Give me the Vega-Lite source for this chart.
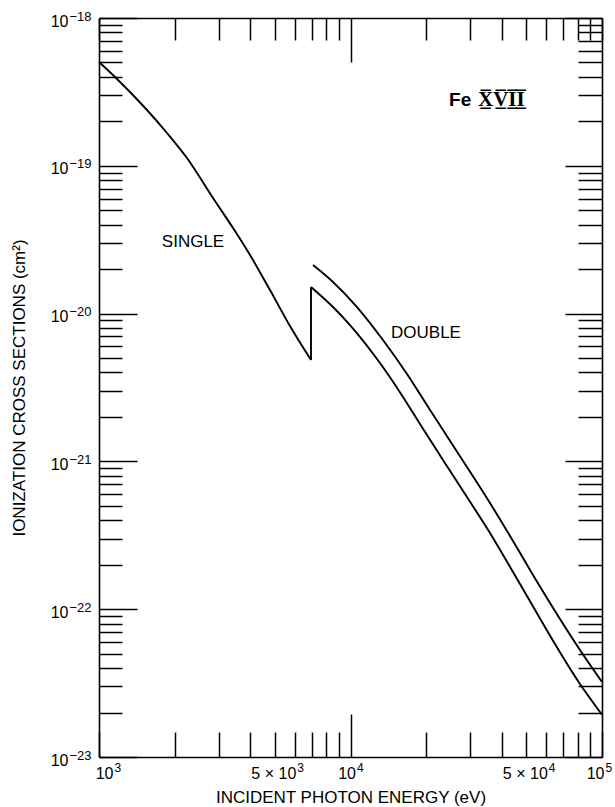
{
  "$schema": "https://vega.github.io/schema/vega-lite/v6.json",
  "width": 503,
  "height": 739,
  "autosize": {"type": "none"},
  "padding": {"left": 99, "top": 18, "right": 13, "bottom": 50},
  "background": "white",
  "config": {
    "view": {"stroke": null},
    "axis": {
      "grid": false,
      "domainColor": "black",
      "domainWidth": 1.6,
      "tickColor": "black",
      "tickWidth": 1.5,
      "labelColor": "black",
      "titleColor": "black",
      "labelFont": "Liberation Sans",
      "titleFont": "Liberation Sans",
      "labelFontSize": 16,
      "titleFontSize": 17,
      "titleFontWeight": "normal",
      "labelOverlap": false,
      "labelBound": false,
      "labelFlush": false
    }
  },
  "datasets": {
    "curves": [
      {"series": "single", "seg": "single-low", "i": 0, "E": 1000, "sigma": 5.04e-19},
      {"series": "single", "seg": "single-low", "i": 1, "E": 1158, "sigma": 3.99e-19},
      {"series": "single", "seg": "single-low", "i": 2, "E": 1552, "sigma": 2.385e-19},
      {"series": "single", "seg": "single-low", "i": 3, "E": 1864, "sigma": 1.667e-19},
      {"series": "single", "seg": "single-low", "i": 4, "E": 2238, "sigma": 1.129e-19},
      {"series": "single", "seg": "single-low", "i": 5, "E": 2840, "sigma": 6.05e-20},
      {"series": "single", "seg": "single-low", "i": 6, "E": 3474, "sigma": 3.62e-20},
      {"series": "single", "seg": "single-low", "i": 7, "E": 3986, "sigma": 2.49e-20},
      {"series": "single", "seg": "single-low", "i": 8, "E": 4786, "sigma": 1.444e-20},
      {"series": "single", "seg": "single-low", "i": 9, "E": 5746, "sigma": 8.24e-21},
      {"series": "single", "seg": "single-low", "i": 10, "E": 6966, "sigma": 4.85e-21},
      {"series": "single", "seg": "single-edge", "i": 10, "E": 6966, "sigma": 4.85e-21},
      {"series": "single", "seg": "single-edge", "i": 11, "E": 6966, "sigma": 1.514e-20},
      {"series": "single", "seg": "single-high", "i": 11, "E": 6966, "sigma": 1.514e-20},
      {"series": "single", "seg": "single-high", "i": 12, "E": 8519, "sigma": 1.108e-20},
      {"series": "single", "seg": "single-high", "i": 13, "E": 9954, "sigma": 8.37e-21},
      {"series": "single", "seg": "single-high", "i": 14, "E": 13100, "sigma": 4.63e-21},
      {"series": "single", "seg": "single-high", "i": 15, "E": 16170, "sigma": 2.73e-21},
      {"series": "single", "seg": "single-high", "i": 16, "E": 18890, "sigma": 1.79e-21},
      {"series": "single", "seg": "single-high", "i": 17, "E": 23320, "sigma": 1.022e-21},
      {"series": "single", "seg": "single-high", "i": 18, "E": 29050, "sigma": 5.74e-22},
      {"series": "single", "seg": "single-high", "i": 19, "E": 35860, "sigma": 3.28e-22},
      {"series": "single", "seg": "single-high", "i": 20, "E": 44270, "sigma": 1.786e-22},
      {"series": "single", "seg": "single-high", "i": 21, "E": 81740, "sigma": 3.12e-23},
      {"series": "single", "seg": "single-high", "i": 22, "E": 100000, "sigma": 1.93e-23},
      {"series": "double", "seg": "double", "i": 0, "E": 7095, "sigma": 2.13e-20},
      {"series": "double", "seg": "double", "i": 1, "E": 8519, "sigma": 1.636e-20},
      {"series": "double", "seg": "double", "i": 2, "E": 10612, "sigma": 1.108e-20},
      {"series": "double", "seg": "double", "i": 3, "E": 13463, "sigma": 6.63e-21},
      {"series": "double", "seg": "double", "i": 4, "E": 16775, "sigma": 3.90e-21},
      {"series": "double", "seg": "double", "i": 5, "E": 20711, "sigma": 2.227e-21},
      {"series": "double", "seg": "double", "i": 6, "E": 23320, "sigma": 1.631e-21},
      {"series": "double", "seg": "double", "i": 7, "E": 29050, "sigma": 9.16e-22},
      {"series": "double", "seg": "double", "i": 8, "E": 35860, "sigma": 5.23e-22},
      {"series": "double", "seg": "double", "i": 9, "E": 44270, "sigma": 2.893e-22},
      {"series": "double", "seg": "double", "i": 10, "E": 53170, "sigma": 1.703e-22},
      {"series": "double", "seg": "double", "i": 11, "E": 81740, "sigma": 5.30e-23},
      {"series": "double", "seg": "double", "i": 12, "E": 100000, "sigma": 3.22e-23}
    ],
    "labels": [
      {"text": "SINGLE", "E": 2365, "sigma": 3.05e-20},
      {"text": "DOUBLE", "E": 19960, "sigma": 7.39e-21}
    ],
    "ion": [
      {"el": "Fe", "stage": "X\u0305\u0332V\u0305\u0332I\u0305\u0332I\u0305\u0332", "E": 24650, "E2": 32140, "sigma": 2.79e-19}
    ]
  },
  "layer": [
    {
      "data": {"name": "curves"},
      "mark": {"type": "line", "color": "black", "strokeWidth": 1.9, "interpolate": "monotone"},
      "encoding": {
        "x": {
          "field": "E", "type": "quantitative",
          "scale": {"type": "log", "domain": [1000, 100000], "nice": false},
          "axis": {
            "orient": "bottom",
            "values": [1000, 2000, 3000, 4000, 5000, 6000, 7000, 8000, 9000, 10000, 20000, 30000, 40000, 50000, 60000, 70000, 80000, 90000, 100000],
            "title": "INCIDENT PHOTON ENERGY (eV)",
            "labelExpr": "datum.value == 1000 || datum.value == 10000 || datum.value == 100000 ? '10' : datum.value == 5000 || datum.value == 50000 ? '5 × 10' : ''",
            "labelAlign": "right",
            "tickSize": {"condition": {"test": "datum.value == 10000", "value": -43}, "value": -25},
            "labelPadding": {"condition": {"test": "datum.value == 10000", "value": 51}, "value": 33},
            "labelOffset": {"condition": [
              {"test": "datum.value == 1000", "value": 14},
              {"test": "datum.value == 10000", "value": 5},
              {"test": "datum.value == 100000", "value": 2}
            ], "value": 21},
            "titlePadding": 8
          }
        },
        "y": {
          "field": "sigma", "type": "quantitative",
          "scale": {"type": "log", "domain": [1e-23, 1e-18], "nice": false},
          "axis": {
            "orient": "left",
            "values": [1e-23, 2e-23, 3e-23, 4e-23, 5e-23, 6e-23, 7e-23, 8e-23, 9e-23, 1e-22, 2e-22, 3e-22, 4e-22, 5e-22, 6e-22, 7e-22, 8e-22, 9e-22, 1e-21, 2e-21, 3e-21, 4e-21, 5e-21, 6e-21, 7e-21, 8e-21, 9e-21, 1e-20, 2e-20, 3e-20, 4e-20, 5e-20, 6e-20, 7e-20, 8e-20, 9e-20, 1e-19, 2e-19, 3e-19, 4e-19, 5e-19, 6e-19, 7e-19, 8e-19, 9e-19, 1e-18],
            "title": "IONIZATION CROSS SECTIONS (cm²)",
            "labelExpr": "abs(log(datum.value)/LN10 - round(log(datum.value)/LN10)) < 0.001 ? '10' : ''",
            "labelAlign": "right",
            "tickSize": {"condition": {"test": "abs(log(datum.value)/LN10 - round(log(datum.value)/LN10)) < 0.001", "value": -38}, "value": -23},
            "labelPadding": 69,
            "labelOffset": 3,
            "titlePadding": 22
          }
        },
        "detail": {"field": "seg"},
        "order": {"field": "i", "type": "quantitative"}
      }
    },
    {
      "data": {"name": "labels"},
      "mark": {"type": "text", "font": "Liberation Sans", "fontSize": 17, "align": "center", "baseline": "middle", "color": "black"},
      "encoding": {
        "x": {
          "field": "E", "type": "quantitative",
          "scale": {"type": "log", "domain": [1000, 100000], "nice": false},
          "axis": {
            "orient": "top",
            "values": [1000, 2000, 3000, 4000, 5000, 6000, 7000, 8000, 9000, 10000, 20000, 30000, 40000, 50000, 60000, 70000, 80000, 90000, 100000],
            "labels": false,
            "title": null,
            "tickSize": {"condition": {"test": "datum.value == 10000", "value": -44}, "value": -22}
          }
        },
        "y": {
          "field": "sigma", "type": "quantitative",
          "scale": {"type": "log", "domain": [1e-23, 1e-18], "nice": false},
          "axis": {
            "orient": "right",
            "values": [1e-23, 2e-23, 3e-23, 4e-23, 5e-23, 6e-23, 7e-23, 8e-23, 9e-23, 1e-22, 2e-22, 3e-22, 4e-22, 5e-22, 6e-22, 7e-22, 8e-22, 9e-22, 1e-21, 2e-21, 3e-21, 4e-21, 5e-21, 6e-21, 7e-21, 8e-21, 9e-21, 1e-20, 2e-20, 3e-20, 4e-20, 5e-20, 6e-20, 7e-20, 8e-20, 9e-20, 1e-19, 2e-19, 3e-19, 4e-19, 5e-19, 6e-19, 7e-19, 8e-19, 9e-19, 1e-18],
            "labels": false,
            "title": null,
            "tickSize": {"condition": {"test": "abs(log(datum.value)/LN10 - round(log(datum.value)/LN10)) < 0.001", "value": -37}, "value": -24}
          }
        },
        "text": {"field": "text"}
      }
    },
    {
      "data": {"name": "ion"},
      "mark": {"type": "text", "font": "Liberation Sans", "fontSize": 19, "fontWeight": "bold", "align": "left", "baseline": "middle", "color": "black"},
      "encoding": {
        "x": {
          "field": "E", "type": "quantitative",
          "scale": {"type": "log", "domain": [1000, 100000], "nice": false},
          "axis": {
            "orient": "bottom",
            "values": [1000, 5000, 10000, 50000, 100000],
            "labelExpr": "datum.value == 1000 ? '3' : datum.value == 5000 ? '3' : datum.value == 10000 ? '4' : datum.value == 50000 ? '4' : '5'",
            "labelAlign": "left",
            "labelBaseline": "top",
            "labelFontSize": 12,
            "ticks": false,
            "domain": false,
            "title": null,
            "labelPadding": 5,
            "labelOffset": {"condition": [
              {"test": "datum.value == 1000", "value": 15},
              {"test": "datum.value == 10000", "value": 6},
              {"test": "datum.value == 100000", "value": 3}
            ], "value": 22}
          }
        },
        "y": {
          "field": "sigma", "type": "quantitative",
          "scale": {"type": "log", "domain": [1e-23, 1e-18], "nice": false},
          "axis": {
            "orient": "left",
            "values": [1e-23, 1e-22, 1e-21, 1e-20, 1e-19, 1e-18],
            "labelExpr": "['−23','−22','−21','−20','−19','−18'][round(log(datum.value)/LN10) + 23]",
            "labelAlign": "left",
            "labelFontSize": 13,
            "ticks": false,
            "domain": false,
            "title": null,
            "labelPadding": 30,
            "labelOffset": -2
          }
        },
        "text": {"field": "el"}
      }
    },
    {
      "data": {"name": "ion"},
      "mark": {"type": "text", "font": "Liberation Serif", "fontSize": 21, "fontWeight": "bold", "align": "left", "baseline": "middle", "color": "black"},
      "encoding": {
        "x": {"field": "E2", "type": "quantitative", "scale": {"type": "log", "domain": [1000, 100000], "nice": false}, "axis": null},
        "y": {"field": "sigma", "type": "quantitative", "scale": {"type": "log", "domain": [1e-23, 1e-18], "nice": false}, "axis": null},
        "text": {"field": "stage"}
      }
    }
  ],
  "resolve": {"axis": {"x": "independent", "y": "independent"}}
}
